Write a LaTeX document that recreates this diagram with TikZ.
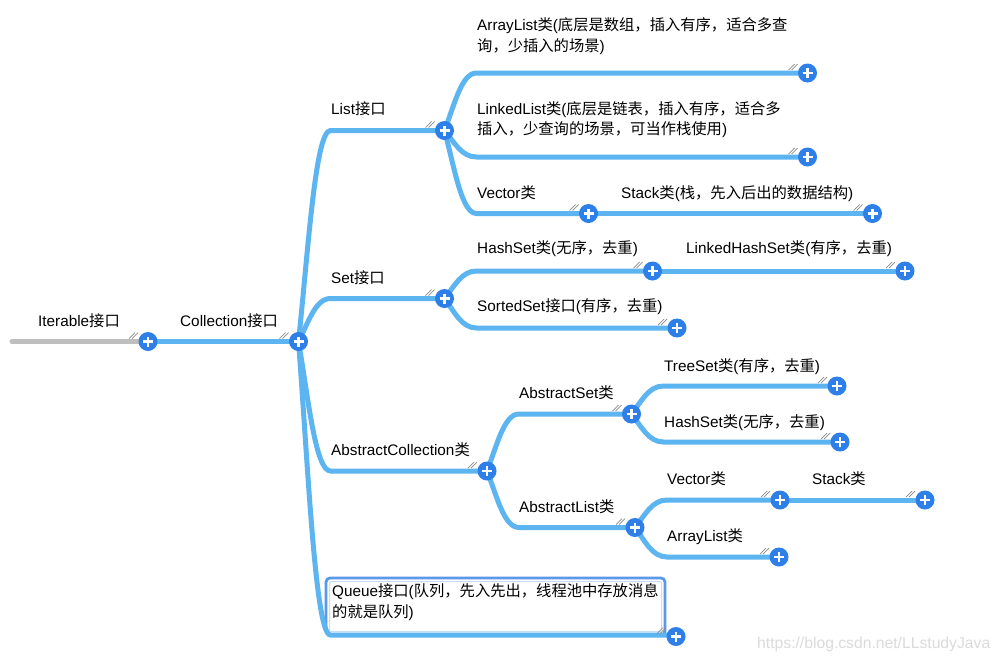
\documentclass[tikz,border=0pt]{standalone}
\usepackage{fontspec}
\setmainfont{Liberation Sans}
\newfontfamily\cjk{Noto Sans CJK SC}
\newfontfamily\wmfont{Liberation Sans}
\usetikzlibrary{calc}
\newcommand\zh[1]{{\cjk #1}}
\definecolor{branch}{HTML}{5CB5F0}
\definecolor{plusblue}{HTML}{2E80E8}
\definecolor{rootgray}{HTML}{BEBEBE}
\definecolor{hatchgray}{HTML}{8A8A8A}
\definecolor{boxblue}{HTML}{5A98EA}
\definecolor{boxinner}{HTML}{C9DDF8}
\tikzset{
  link/.style={draw=branch, line width=5pt, line cap=round},
  rootlink/.style={draw=rootgray, line width=5pt, line cap=round},
  plusdot/.style={circle, fill=plusblue, minimum size=19pt, inner sep=0pt, draw=none},
  plusbar/.style={draw=white, line width=2.6pt},
  hatchline/.style={draw=hatchgray, line width=0.7pt},
  txt/.style={anchor=base west, inner sep=0pt, align=left, font=\fontsize{15.3}{20.5}\selectfont},
}
\newcommand\branchline[2]{\draw[link] (#1) .. controls ($(#1)!0.45!(#1|-#2)+(10,0)$) and ($(#1|-#2)+(17,0)$) .. ($(#1|-#2)+(32,0)$) -- (#2);}
\newcommand\hatchat[1]{\draw[hatchline] ($(#1)+(-19,-3)$) -- ++(6,-6) ($(#1)+(-16,-3)$) -- ++(6,-6);}
\newcommand\plusnode[2]{\node[plusdot] (#1) at (#2) {};
  \draw[plusbar] ($(#1.center)+(-5,0)$) -- ($(#1.center)+(5,0)$) ($(#1.center)+(0,-5)$) -- ($(#1.center)+(0,5)$);}
\begin{document}
\begin{tikzpicture}[x=1pt,y=-1pt]
\useasboundingbox (0,0) rectangle (1000,662);
\fill[white] (0,0) rectangle (1000,662);
% coordinates
\coordinate (cstart) at (12,341.5);
\coordinate (cit) at (148,341.5);
\coordinate (cco) at (298.5,341.5);
\coordinate (cli) at (444.5,130.5);
\coordinate (cal) at (807.5,73);
\coordinate (cll) at (807.5,157);
\coordinate (cve) at (588.5,213.5);
\coordinate (cst) at (872.5,213.5);
\coordinate (cse) at (444.5,298.5);
\coordinate (chs) at (652.5,271);
\coordinate (clh) at (905,271);
\coordinate (css) at (677,328);
\coordinate (cac) at (487,471);
\coordinate (cas) at (631.5,414);
\coordinate (cts) at (837,386);
\coordinate (chb) at (840,442);
\coordinate (cbl) at (635,527.5);
\coordinate (cvb) at (780,500);
\coordinate (csb) at (925,500);
\coordinate (cab) at (779,557);
\coordinate (cqe) at (676,635);
% queue box
\draw[draw=boxblue, line width=2.8pt, rounded corners=4pt, fill=white] (326,578) rectangle (665,635);
\draw[draw=boxinner, line width=1pt, rounded corners=2pt] (329.5,581.5) rectangle (661.5,631.5);
% connectors
\draw[rootlink] (cstart) -- (cit);
\draw[link] (cit) -- (cco);
\branchline{cco}{cli}
\branchline{cli}{cal}
\branchline{cli}{cll}
\branchline{cli}{cve}
\draw[link] (cve) -- (cst);
\branchline{cco}{cse}
\branchline{cse}{chs}
\draw[link] (chs) -- (clh);
\branchline{cse}{css}
\branchline{cco}{cac}
\branchline{cac}{cas}
\branchline{cas}{cts}
\branchline{cas}{chb}
\branchline{cac}{cbl}
\branchline{cbl}{cvb}
\draw[link] (cvb) -- (csb);
\branchline{cbl}{cab}
\branchline{cco}{cqe}
\coordinate (cqu) at (676,636.5);
% hatches
\foreach \c in {cit,cco,cli,cal,cll,cve,cst,cse,chs,clh,css,cac,cas,cts,chb,cbl,cvb,csb,cab,cqu}{\hatchat{\c}}
% plus nodes
\plusnode{pit}{cit}
\plusnode{pco}{cco}
\plusnode{pli}{cli}
\plusnode{pal}{cal}
\plusnode{pll}{cll}
\plusnode{pve}{cve}
\plusnode{pst}{cst}
\plusnode{pse}{cse}
\plusnode{phs}{chs}
\plusnode{plh}{clh}
\plusnode{pss}{css}
\plusnode{pac}{cac}
\plusnode{pas}{cas}
\plusnode{pts}{cts}
\plusnode{phb}{chb}
\plusnode{pbl}{cbl}
\plusnode{pvb}{cvb}
\plusnode{psb}{csb}
\plusnode{pab}{cab}
\plusnode{pqu}{cqu}
% labels
\node[txt] (tit) at (38,326) {Iterable\zh{接口}};
\node[txt] (tco) at (180,326) {Collection\zh{接口}};
\node[txt] (tli) at (331,114) {List\zh{接口}};
\node[txt] (tal) at (477,51) {ArrayList\zh{类}(\zh{底层是数组，插入有序，适合多查}\\\zh{询，少插入的场景})};
\node[txt] (tll) at (477,134.5) {LinkedList\zh{类}(\zh{底层是链表，插入有序，适合多}\\\zh{插入，少查询的场景，可当作栈使用})};
\node[txt] (tve) at (477,198) {Vector\zh{类}};
\node[txt] (tst) at (621,198) {Stack\zh{类}(\zh{栈，先入后出的数据结构})};
\node[txt] (tse) at (331,283) {Set\zh{接口}};
\node[txt] (ths) at (477,253) {HashSet\zh{类}(\zh{无序，去重})};
\node[txt] (tlh) at (686,253) {LinkedHashSet\zh{类}(\zh{有序，去重})};
\node[txt] (tss) at (477,311) {SortedSet\zh{接口}(\zh{有序，去重})};
\node[txt] (tac) at (331,455) {AbstractCollection\zh{类}};
\node[txt] (tas) at (519,398) {AbstractSet\zh{类}};
\node[txt] (tts) at (664,371) {TreeSet\zh{类}(\zh{有序，去重})};
\node[txt] (thb) at (664,427) {HashSet\zh{类}(\zh{无序，去重})};
\node[txt] (tbl) at (519,512) {AbstractList\zh{类}};
\node[txt] (tvb) at (667,484) {Vector\zh{类}};
\node[txt] (tsb) at (812,484) {Stack\zh{类}};
\node[txt] (tab) at (667,541) {ArrayList\zh{类}};
\node[txt] (tqu) at (332,617) {Queue\zh{接口}(\zh{队列，先入先出，线程池中存放消息}\\\zh{的就是队列})};
\node[anchor=base west, inner sep=0pt, text=black!14, font=\wmfont\fontsize{15.7}{15.7}\selectfont] (wm) at (757,648) {https://blog.csdn.net/LLstudyJava};
\end{tikzpicture}
\end{document}
